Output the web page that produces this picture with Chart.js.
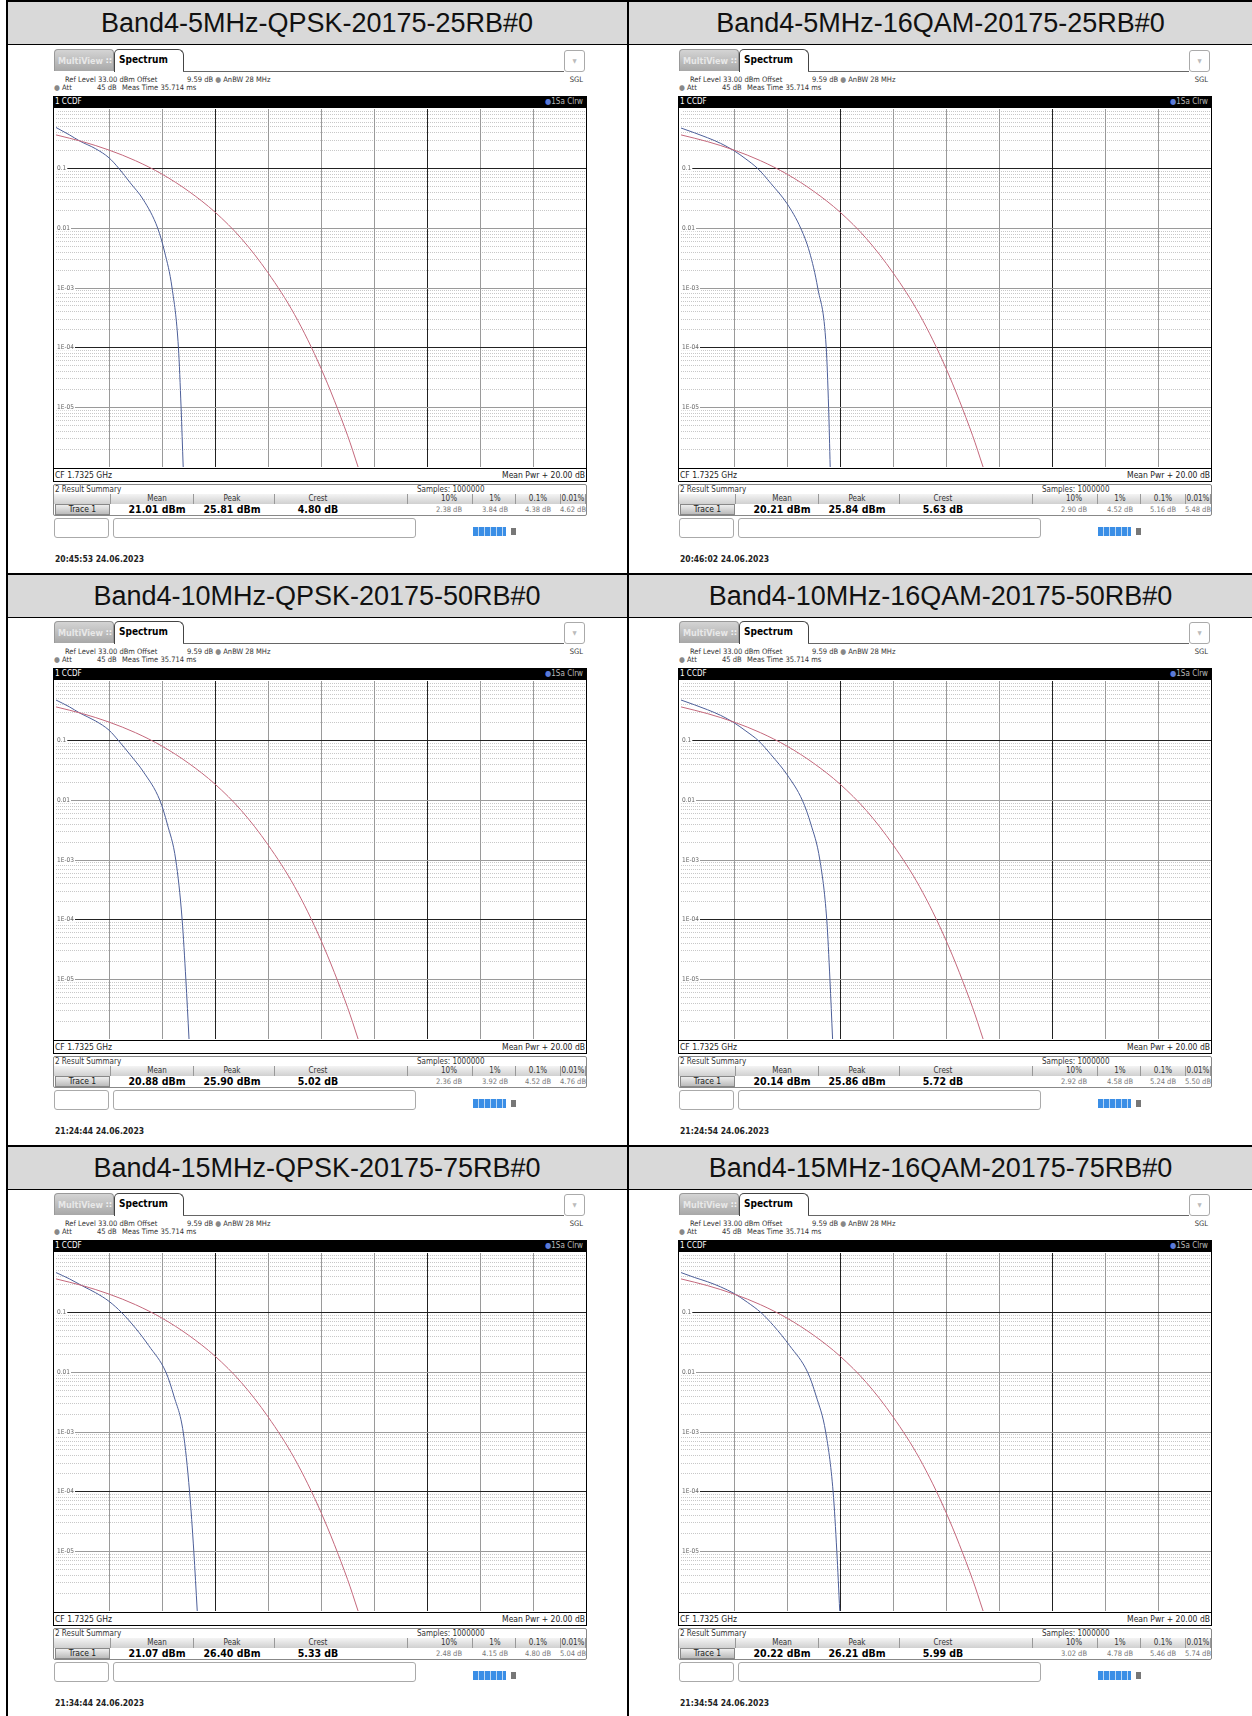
<!DOCTYPE html>
<html>
<head>
<meta charset="utf-8">
<script src="https://cdn.jsdelivr.net/npm/chart.js@4.4.0/dist/chart.umd.min.js"></script>
<style>
body { margin: 0; background: #fff; width: 1252px; height: 1716px; position: relative; overflow: hidden;
       font-family: "Liberation Sans", Arial, sans-serif; }
.ln { position: absolute; background: #000; }
.hdr { position: absolute; background: #d9d9d9; font-size: 27px; color: #111; text-align: center; }
.pnl { position: absolute; width: 534px; height: 520px;
       font-family: "Liberation Sans Narrow", "DejaVu Sans Condensed", "Liberation Sans", sans-serif; color: #333; }
.pnl div { position: absolute; white-space: nowrap; }
.tabMV { left: 1px; top: 0; width: 60px; height: 22px; border: 1px solid #999; border-bottom: none;
         border-radius: 4px 4px 0 0; background: linear-gradient(#d4d4d4, #a8a8a8);
         color: #e8e8e8; font-size: 9px; font-weight: bold; line-height: 22px; padding-left: 3px; box-sizing: border-box; }
.tabSp { left: 61px; top: 0; width: 70px; height: 23px; border: 1px solid #444; border-bottom: none;
         border-radius: 5px 6px 0 0; background: #fff; color: #000; font-size: 10px; font-weight: bold;
         line-height: 20px; padding-left: 4px; box-sizing: border-box; }
.tabLine { left: 130px; top: 22px; width: 381px; height: 1px; background: #666; }
.drop { left: 511px; top: 1px; width: 21px; height: 22px; border: 1px solid #aaa; border-radius: 3px;
        box-sizing: border-box; color: #bbb; font-size: 6px; text-align: center; line-height: 20px; }
.inf { font-size: 7.5px; line-height: 9px; color: #333; }
.bar { left: 0; top: 47px; width: 534px; height: 12px; background: #000; color: #fff; font-size: 8px; line-height: 12px; }
.frame { left: 0; top: 58px; width: 534px; height: 375px; border: 1px solid #000; box-sizing: border-box; }
.plot { left: 1px; top: 59px; width: 532px; height: 360px; }
.cf { left: 0; top: 419px; width: 534px; height: 14px; border-top: 1px solid #000; font-size: 8.5px; line-height: 13px; color: #222; }
.sum { left: 0; top: 435px; width: 534px; height: 32px; border: 1px solid #888; box-sizing: border-box; border-radius: 2px; }
.colh { top: 445px; height: 10px; background: linear-gradient(#f4f4f4, #d0d0d0); font-size: 8px; line-height: 10px; text-align: center; color: #333; border-right: 1px solid #999; box-sizing: border-box; }
.val { top: 455px; height: 11px; font-size: 10.5px; line-height: 11px; font-weight: bold; text-align: center; color: #000; }
.pv { top: 455px; height: 11px; font-size: 7.5px; line-height: 11px; text-align: center; color: #777; }
.trc { left: 2px; top: 455px; width: 55px; height: 11px; background: linear-gradient(#eee, #bbb); border: 1px solid #888;
       box-sizing: border-box; font-size: 8.5px; line-height: 9px; text-align: center; color: #222; }
.sbox { top: 469px; height: 20px; border: 1px solid #aaa; border-radius: 3px; box-sizing: border-box; background: #fff; }
.prog { left: 420px; top: 478px; width: 33px; height: 9px; background: repeating-linear-gradient(90deg, #3a8ee6 0 5px, #bcd8f5 5px 6px); }
.icon { left: 458px; top: 479px; width: 5px; height: 7px; background: #777; }
.ts { left: 2px; top: 505px; font-size: 8.5px; font-weight: bold; color: #222; font-family: "DejaVu Sans Condensed", "Liberation Sans", sans-serif; }
</style>
</head>
<body>
<script>
// titles of the six captures
const titles = [
    'Band4-5MHz-QPSK-20175-25RB#0', 'Band4-5MHz-16QAM-20175-25RB#0',
    'Band4-10MHz-QPSK-20175-50RB#0', 'Band4-10MHz-16QAM-20175-50RB#0',
    'Band4-15MHz-QPSK-20175-75RB#0', 'Band4-15MHz-16QAM-20175-75RB#0'
];
const timestamps = ['20:45:53  24.06.2023', '20:46:02  24.06.2023', '21:24:44  24.06.2023',
                    '21:24:54  24.06.2023', '21:34:44  24.06.2023', '21:34:54  24.06.2023'];

// result summary values
const meanPwr = ['21.01 dBm', '20.21 dBm', '20.88 dBm', '20.14 dBm', '21.07 dBm', '20.22 dBm'];
const peakPwr = ['25.81 dBm', '25.84 dBm', '25.90 dBm', '25.86 dBm', '26.40 dBm', '26.21 dBm'];
const crest = ['4.80 dB', '5.63 dB', '5.02 dB', '5.72 dB', '5.33 dB', '5.99 dB'];
const pct10 = ['2.38 dB', '2.90 dB', '2.36 dB', '2.92 dB', '2.48 dB', '3.02 dB'];
const pct1 = ['3.84 dB', '4.52 dB', '3.92 dB', '4.58 dB', '4.15 dB', '4.78 dB'];
const pct01 = ['4.38 dB', '5.16 dB', '4.52 dB', '5.24 dB', '4.80 dB', '5.46 dB'];
const pct001 = ['4.62 dB', '5.48 dB', '4.76 dB', '5.50 dB', '5.04 dB', '5.74 dB'];

// gaussian reference curve (red), dB above mean power vs probability
const refDb = [0, 1, 2, 3, 4, 5, 6, 7, 8, 9, 10, 11, 11.4];
const refProb = [0.368, 0.284, 0.205, 0.136, 0.081, 0.042, 0.0187, 0.0067, 0.0018, 0.00036, 0.000045, 0.0000034, 0.000001];

// measured trace (blue) per capture
const traceDb = [
    [0, 0.5, 0.9, 1.5, 2.0, 2.38, 2.8, 3.3, 3.84, 4.1, 4.38, 4.62, 4.72, 4.80],
    [0, 0.5, 1.0, 1.5, 2.0, 2.45, 2.90, 3.4, 4.0, 4.52, 4.85, 5.16, 5.48, 5.57, 5.63],
    [0, 0.5, 0.9, 1.5, 2.0, 2.36, 2.8, 3.3, 3.92, 4.2, 4.52, 4.76, 4.90, 5.02],
    [0, 0.5, 1.0, 1.5, 2.0, 2.45, 2.92, 3.4, 4.0, 4.58, 4.9, 5.24, 5.50, 5.62, 5.72],
    [0, 0.5, 1.0, 1.5, 2.0, 2.48, 3.0, 3.5, 4.15, 4.45, 4.80, 5.04, 5.20, 5.33],
    [0, 0.5, 1.0, 1.5, 2.0, 2.5, 3.02, 3.5, 4.1, 4.78, 5.1, 5.46, 5.74, 5.88, 5.99]
];
const traceProb = [
    [0.49, 0.37, 0.29, 0.215, 0.152, 0.1, 0.058, 0.03, 0.01, 0.004, 0.001, 0.0001, 0.00001, 0.000001],
    [0.48, 0.40, 0.33, 0.265, 0.2, 0.145, 0.1, 0.056, 0.026, 0.01, 0.004, 0.001, 0.0001, 0.00001, 0.000001],
    [0.48, 0.37, 0.29, 0.213, 0.15, 0.1, 0.058, 0.03, 0.01, 0.004, 0.001, 0.0001, 0.00001, 0.000001],
    [0.48, 0.40, 0.33, 0.265, 0.2, 0.145, 0.1, 0.058, 0.027, 0.01, 0.004, 0.001, 0.0001, 0.00001, 0.000001],
    [0.47, 0.37, 0.28, 0.215, 0.155, 0.1, 0.055, 0.028, 0.01, 0.004, 0.001, 0.0001, 0.00001, 0.000001],
    [0.47, 0.39, 0.33, 0.27, 0.21, 0.15, 0.1, 0.06, 0.028, 0.01, 0.004, 0.001, 0.0001, 0.00001, 0.000001]
];

// y axis decades and their labels
const yTickValues = [1, 0.1, 0.01, 0.001, 0.0001, 0.00001, 0.000001];
const yTickLabels = ['', '0.1', '0.01', '1E-03', '1E-04', '1E-05', ''];
const yDarkValues = [0.1, 0.0001];
const xDarkValues = [6, 14];

const RED = '#c4687c';
const BLUE = '#4d5f99';

function toPoints(xs, ys) {
    return xs.map((x, k) => ({x: x, y: ys[k]}));
}

function minorValues() {
    let out = [];
    for (let e = -6; e < 0; e++) {
        for (let m = 2; m <= 9; m++) out.push(m * Math.pow(10, e));
    }
    return out;
}

function sameVal(a, b) {
    return Math.abs(Math.log10(a) - Math.log10(b)) < 0.001;
}

function drawLines() {
    let html = '';
    // horizontal rules and header rows
    const hTops = [1, 574, 1146];
    hTops.forEach((t, r) => {
        html += '<div class="hdr" style="left:7px;top:' + (t + 1) + 'px;width:620px;height:42px;line-height:42px">' + titles[2 * r] + '</div>';
        html += '<div class="hdr" style="left:629px;top:' + (t + 1) + 'px;width:623px;height:42px;line-height:42px">' + titles[2 * r + 1] + '</div>';
        html += '<div class="ln" style="left:6px;top:' + (t - 1) + 'px;width:1246px;height:2px"></div>';
        html += '<div class="ln" style="left:6px;top:' + (t + 43) + 'px;width:1246px;height:1px"></div>';
    });
    html += '<div class="ln" style="left:6px;top:0;width:2px;height:1716px"></div>';
    html += '<div class="ln" style="left:627px;top:0;width:2px;height:1716px"></div>';
    document.body.insertAdjacentHTML('beforeend', html);
}

function buildPanel(i) {
    const col = i % 2, row = Math.floor(i / 2);
    const left = col ? 678 : 53;
    const top = 49 + row * 572;
    const p = document.createElement('div');
    p.className = 'pnl';
    p.style.left = left + 'px';
    p.style.top = top + 'px';

    const centers = [104, 179, 265, 396, 442, 485, 520];
    const edges = [58, 141, 222, 355, 420, 463, 508, 533];
    const names = ['Mean', 'Peak', 'Crest', '10%', '1%', '0.1%', '0.01%'];
    let colHead = '<div class="colh" style="left:1px;width:57px"></div>';
    for (let k = 0; k < 7; k++) {
        let w = edges[k + 1] - edges[k];
        colHead += '<div class="colh" style="left:' + edges[k] + 'px;width:' + w + 'px"></div>';
        colHead += '<div class="colh" style="left:' + (centers[k] - 20) + 'px;width:40px;background:none;border:none">' + names[k] + '</div>';
    }
    const bold = [meanPwr[i], peakPwr[i], crest[i]];
    const small = [pct10[i], pct1[i], pct01[i], pct001[i]];
    let vals = '';
    for (let k = 0; k < 3; k++) {
        vals += '<div class="val" style="left:' + (centers[k] - 40) + 'px;width:80px">' + bold[k] + '</div>';
    }
    for (let k = 0; k < 4; k++) {
        vals += '<div class="pv" style="left:' + (centers[k + 3] - 20) + 'px;width:40px">' + small[k] + '</div>';
    }

    p.innerHTML =
        '<div class="tabMV">MultiView <span style="color:#f4f4f4">&#8759;</span></div>' +
        '<div class="tabSp">Spectrum</div>' +
        '<div class="tabLine"></div>' +
        '<div class="drop">&#9660;</div>' +
        '<div class="inf" style="left:12px;top:26px">Ref Level 33.00 dBm</div>' +
        '<div class="inf" style="left:84px;top:26px">Offset</div>' +
        '<div class="inf" style="left:134px;top:26px">9.59 dB <span style="color:#888">&#9679;</span> AnBW 28 MHz</div>' +
        '<div class="inf" style="right:4px;top:26px">SGL</div>' +
        '<div class="inf" style="left:1px;top:34px"><span style="color:#888">&#9679;</span> Att</div>' +
        '<div class="inf" style="left:44px;top:34px">45 dB</div>' +
        '<div class="inf" style="left:69px;top:34px">Meas Time 35.714 ms</div>' +
        '<div class="bar"><span style="position:absolute;left:2px">1 CCDF</span>' +
        '<span style="position:absolute;right:4px;color:#bbb"><span style="color:#5a7ad8">&#9679;</span>1Sa Clrw</span></div>' +
        '<div class="frame"></div>' +
        '<div class="plot"><canvas></canvas></div>' +
        '<div class="cf"><span style="position:absolute;left:2px">CF 1.7325 GHz</span>' +
        '<span style="position:absolute;right:2px">Mean Pwr + 20.00 dB</span></div>' +
        '<div class="sum"></div>' +
        '<div class="inf" style="left:2px;top:436px;font-size:8px">2 Result Summary</div>' +
        '<div class="inf" style="left:364px;top:436px;font-size:8px">Samples: 1000000</div>' +
        colHead +
        '<div class="trc">Trace 1</div>' + vals +
        '<div class="sbox" style="left:1px;width:55px"></div>' +
        '<div class="sbox" style="left:60px;width:303px"></div>' +
        '<div class="prog"></div><div class="icon"></div>' +
        '<div class="ts">' + timestamps[i] + '</div>';
    document.body.appendChild(p);
    makeChart(p.querySelector('canvas'), i);
}

function makeChart(canvas, i) {
    const minors = minorValues();
    new Chart(canvas, {
        type: 'line',
        data: {
            datasets: [
                {
                    data: toPoints(refDb, refProb),
                    borderColor: RED, borderWidth: 1, pointRadius: 0,
                    cubicInterpolationMode: 'monotone'
                },
                {
                    data: toPoints(traceDb[i], traceProb[i]),
                    borderColor: BLUE, borderWidth: 1, pointRadius: 0,
                    cubicInterpolationMode: 'monotone'
                }
            ]
        },
        options: {
            animation: false,
            responsive: true,
            maintainAspectRatio: false,
            layout: {padding: 0},
            plugins: {legend: {display: false}, tooltip: {enabled: false}},
            scales: {
                x: {
                    type: 'linear', min: 0, max: 20,
                    ticks: {display: false, stepSize: 2},
                    grid: {
                        drawTicks: false,
                        color: function (ctx) {
                            let v = ctx.tick ? ctx.tick.value : 0;
                            if (v <= 0 || v >= 20) return 'rgba(0,0,0,0)';
                            return xDarkValues.includes(v) ? '#222' : '#9a9a9a';
                        }
                    },
                    border: {display: false}
                },
                y: {
                    type: 'logarithmic', min: 0.000001, max: 1, position: 'left',
                    afterBuildTicks: function (scale) {
                        scale.ticks = yTickValues.map(v => ({value: v}));
                    },
                    ticks: {
                        mirror: true, padding: 1, autoSkip: false,
                        color: '#666',
                        // zero line height keeps the labels from shrinking the plot area
                        font: {size: 6.5, family: 'DejaVu Sans Condensed', lineHeight: 0},
                        showLabelBackdrop: true, backdropColor: '#fff',
                        backdropPadding: {top: 3, bottom: 3, left: 2, right: 1},
                        callback: function (value) {
                            let k = yTickValues.findIndex(v => sameVal(v, value));
                            return k >= 0 ? yTickLabels[k] : '';
                        }
                    },
                    grid: {
                        drawTicks: false,
                        color: function (ctx) {
                            let v = ctx.tick ? ctx.tick.value : 1;
                            if (sameVal(v, 1) || sameVal(v, 0.000001)) return 'rgba(0,0,0,0)';
                            return yDarkValues.some(d => sameVal(d, v)) ? '#222' : '#9a9a9a';
                        }
                    },
                    border: {display: false}
                },
                yMinor: {
                    type: 'logarithmic', min: 0.000001, max: 1, position: 'right',
                    afterBuildTicks: function (scale) {
                        scale.ticks = minors.map(v => ({value: v}));
                    },
                    ticks: {display: false},
                    grid: {drawTicks: false, color: '#c8c8c8', z: -2},
                    border: {display: false, dash: [1, 1]}
                }
            }
        }
    });
}

drawLines();
for (let i = 0; i < 6; i++) buildPanel(i);
</script>
</body>
</html>
